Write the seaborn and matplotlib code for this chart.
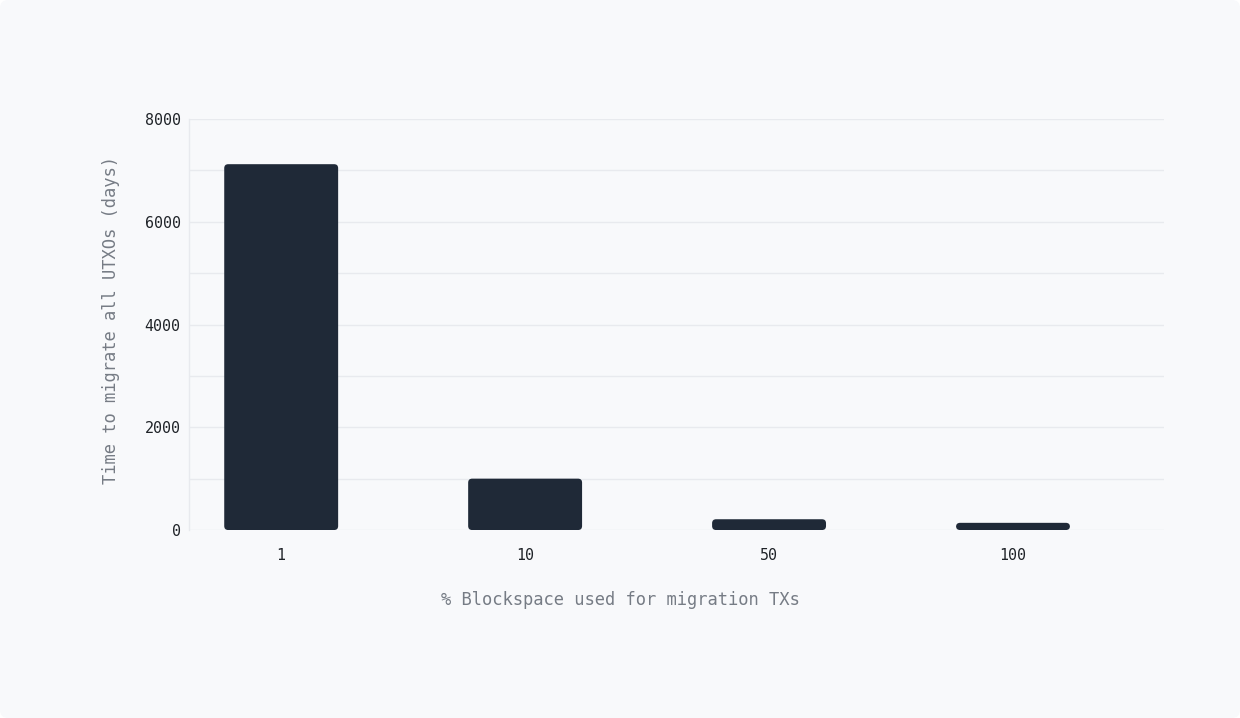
import pandas as pd
import seaborn as sns
import matplotlib.pyplot as plt
from matplotlib.patches import FancyBboxPatch
from matplotlib.ticker import MultipleLocator

# data
blockspace = ['1', '10', '50', '100']
days = [7120, 1000, 210, 140]

dados = pd.DataFrame({'blockspace': blockspace, 'days': days})

sns.set_style('white')
plt.rcParams['font.family'] = ['DejaVu Sans Mono', 'DejaVu Sans']

fig = plt.figure(figsize=(12.4, 7.18), dpi=100, facecolor='white')
# rounded card behind the chart
card = FancyBboxPatch((0, 0), 1, 1, boxstyle=f'round,pad=0,rounding_size={8 / 1240}',
                      mutation_aspect=1240 / 718, transform=fig.transFigure,
                      facecolor='#f8f9fb', edgecolor='none', zorder=-10)
fig.patches.append(card)

ax = fig.add_axes([0.1524, 0.2618, 0.7863, 0.5725])
ax.set_facecolor('none')

sns.barplot(data=dados, x='blockspace', y='days', color='#1f2937', width=0.467,
            saturation=1, errorbar=None, ax=ax)

ax.set_xlim(-0.378, 3.619)
ax.set_ylim(0, 8000)
ax.yaxis.set_major_locator(MultipleLocator(2000))
ax.yaxis.set_minor_locator(MultipleLocator(1000))
ax.grid(True, axis='y', which='both', color='#e8eaee', linewidth=1)
ax.set_axisbelow(True)

for s in ['top', 'right', 'bottom']:
    ax.spines[s].set_visible(False)
ax.spines['left'].set_color('#e8eaee')
ax.spines['left'].set_linewidth(1)

ax.tick_params(axis='both', which='both', length=0, labelsize=10.8, labelcolor='#1f2328')
ax.tick_params(axis='y', pad=6)
ax.tick_params(axis='x', pad=13)

ax.set_xlabel('')
ax.set_ylabel('')
fig.text(0.5, 0.164, '% Blockspace used for migration TXs', ha='center', va='center',
         fontsize=12.3, color='#767c85')
fig.text(0.0895, 0.554, 'Time to migrate all UTXOs (days)', ha='center', va='center',
         rotation=90, fontsize=12.3, color='#767c85')

# rounded bars
fig.canvas.draw()
p0 = ax.transData.transform((0, 0))
p1 = ax.transData.transform((1, 1000))
px_x = p1[0] - p0[0]
px_y = (p1[1] - p0[1]) / 1000
radius = 4 / px_x
aspect = px_x / px_y
for bar in list(ax.patches):
    x, y = bar.get_x(), bar.get_y()
    w, h = bar.get_width(), bar.get_height()
    fc = bar.get_facecolor()
    bar.remove()
    ax.add_patch(FancyBboxPatch((x, y), w, h,
                                boxstyle=f'round,pad=0,rounding_size={radius}',
                                mutation_aspect=aspect, facecolor=fc, edgecolor='none'))

fig.savefig('out.png', dpi=100, facecolor=fig.get_facecolor())
